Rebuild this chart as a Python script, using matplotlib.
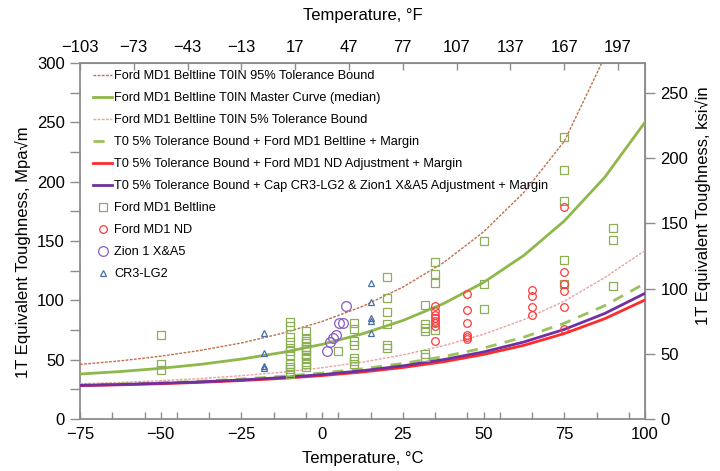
import matplotlib
matplotlib.use("Agg")
import matplotlib.pyplot as plt
import numpy as np

plt.rcParams['font.family'] = ['Liberation Sans', 'DejaVu Sans']

# ---- curve data ----
curve_T = [-75, -62.5, -50, -37.5, -25, -12.5, 0, 12.5, 25, 37.5, 50, 62.5, 75, 87.5, 100]
tol95 = [46.0, 49.0, 52.9, 57.9, 64.1, 72.1, 82.2, 94.9, 111.1, 131.6, 157.7, 191.0, 234.0, 305.0, 370.0]
median = [37.9, 40.0, 42.7, 46.1, 50.5, 56.0, 62.9, 71.8, 83.0, 97.1, 115.1, 137.9, 166.9, 203.6, 250.1]
tol05 = [29.7, 30.8, 32.3, 34.1, 36.5, 39.4, 43.2, 47.9, 54.0, 61.7, 71.4, 83.7, 99.3, 119.1, 142.0]
beltline_margin = [28.6, 29.5, 30.5, 31.9, 33.7, 35.9, 38.7, 42.3, 46.8, 52.5, 59.8, 69.0, 80.7, 95.5, 114.3]
nd_margin = [28.1, 28.8, 29.7, 30.9, 32.4, 34.2, 36.6, 39.6, 43.4, 48.2, 54.4, 62.1, 72.0, 84.5, 100.3]
cap_margin = [28.3, 29.1, 30.1, 31.3, 32.9, 34.9, 37.4, 40.7, 44.8, 50.0, 56.5, 64.9, 75.5, 88.9, 105.9]

# ---- data points ----
belt_T = ([-50] * 3 + [-10] * 12 + [-5] * 12 + [5] + [10] * 7 + [20] * 6 +
          [32] * 6 + [35] * 4 + [50] * 3 + [75] * 5 + [90] * 3)
belt_K = ([71, 46, 41] +
          [82, 78, 69, 65, 60, 57, 54, 46, 44, 42, 40, 38] +
          [74, 68, 66, 64, 61, 59, 57, 54, 51, 48, 46, 44] +
          [57] +
          [81, 76, 66, 62, 51, 49, 46] +
          [120, 102, 90, 80, 62, 60] +
          [96, 80, 77, 74, 55, 52] +
          [132, 122, 115, 75] +
          [150, 114, 93] +
          [238, 210, 184, 134, 114] +
          [161, 151, 112])

nd_T = [35] * 8 + [45] * 6 + [65] * 4 + [75] * 6
nd_K = ([95, 91, 88, 85, 83, 81, 78, 66] +
        [105, 92, 81, 71, 69, 67] +
        [109, 104, 94, 88] +
        [179, 124, 114, 108, 94, 76])

zion_T = [1.4, 2.4, 3.3, 4.3, 5.3, 6.6, 7.4]
zion_K = [57.5, 64.5, 68.0, 71.0, 81.0, 81.0, 95.5]

cr3_T = [-18] * 4 + [15] * 5
cr3_K = [72.7, 55.4, 44.7, 42.7, 114.3, 98.3, 85.3, 82.7, 72.7]

labels = [
    "Ford MD1 Beltline T0IN 95% Tolerance Bound",
    "Ford MD1 Beltline T0IN Master Curve (median)",
    "Ford MD1 Beltline T0IN 5% Tolerance Bound",
    "T0 5% Tolerance Bound + Ford MD1 Beltline + Margin",
    "T0 5% Tolerance Bound + Ford MD1 ND Adjustment + Margin",
    "T0 5% Tolerance Bound + Cap CR3-LG2 & Zion1 X&A5 Adjustment + Margin",
    "Ford MD1 Beltline",
    "Ford MD1 ND",
    "Zion 1 X&A5",
    "CR3-LG2",
]

fig = plt.figure(figsize=(7.2, 4.71), dpi=100)
ax = fig.add_axes([80 / 720, 1 - 419 / 471, 565 / 720, 356 / 471])

ax.plot(curve_T, tol95, color='#c0704a', lw=1.0, ls=(0, (2, 1)), label=labels[0], zorder=3)
ax.plot(curve_T, median, color='#8fb84a', lw=2.0, label=labels[1], zorder=3)
ax.plot(curve_T, tol05, color='#eba3a3', lw=1.0, ls=(0, (2, 1)), label=labels[2], zorder=3)
ax.plot(curve_T, beltline_margin, color='#9bc25c', lw=2.0, ls=(0, (4, 3)), label=labels[3], zorder=3)
ax.plot(curve_T, nd_margin, color='#ff2a2a', lw=2.0, label=labels[4], zorder=3)
ax.plot(curve_T, cap_margin, color='#7030a0', lw=2.0, label=labels[5], zorder=3)

ax.plot(belt_T, belt_K, ls='none', marker='s', ms=5.5, mfc='none', mec='#8cae55', mew=0.9,
        label=labels[6], zorder=4)
ax.plot(nd_T, nd_K, ls='none', marker='o', ms=5.5, mfc='none', mec='#ff3b3b', mew=0.9,
        label=labels[7], zorder=4)
ax.plot(zion_T, zion_K, ls='none', marker='o', ms=7, mfc='none', mec='#8a5cc0', mew=0.9,
        label=labels[8], zorder=4)
ax.plot(cr3_T, cr3_K, ls='none', marker='^', ms=5, mfc='none', mec='#4a6fa5', mew=0.9,
        label=labels[9], zorder=4)

ax.set_xlim(-75, 100)
ax.set_ylim(0, 300)
ax.set_xticks(np.arange(-75, 101, 25))
ax.set_xticks(np.arange(-65, 100, 10), minor=True)
ax.set_yticks(np.arange(0, 301, 50))
ax.set_yticks(np.arange(25, 300, 50), minor=True)

gray = '#8c8c8c'
for s in ax.spines.values():
    s.set_color(gray)
    s.set_linewidth(1.3)

ax.tick_params(axis='x', which='both', direction='in', length=5, color=gray, width=1,
               labelsize=12, pad=6)
ax.tick_params(axis='y', which='both', direction='out', length=7, color=gray, width=1,
               labelsize=12, pad=4)
ax.set_xlabel("Temperature, °C", fontsize=12, labelpad=6.5)
ax.set_ylabel("1T Equivalent Toughness, Mpa√m", fontsize=12)
ax.yaxis.set_label_coords(-0.086, 0.468)

secx = ax.secondary_xaxis('top', functions=(lambda c: c * 9 / 5 + 32, lambda f: (f - 32) * 5 / 9))
secx.set_xticks(np.arange(-103, 198, 30))
secx.tick_params(axis='x', direction='in', length=5, color=gray, width=1, labelsize=12, pad=6)
secx.spines['top'].set_color(gray)
secx.set_xlabel("Temperature, °F", fontsize=12, labelpad=14.5)

k = 0.9101
secy = ax.secondary_yaxis('right', functions=(lambda m: m * k, lambda s: s / k))
secy.set_yticks(np.arange(0, 251, 50))
secy.tick_params(axis='y', direction='out', length=7, color=gray, width=1, labelsize=12, pad=4)
secy.spines['right'].set_color(gray)
secy.set_ylabel("1T Equivalent Toughness, ksi√in", fontsize=12)
secy.yaxis.set_label_coords(1.0885, 0.60, transform=ax.transAxes)

leg = ax.legend(loc='upper left', bbox_to_anchor=(0.0233, 0.979), frameon=False,
                fontsize=9.2, handlelength=1.5, handletextpad=0.15, labelspacing=0.78,
                borderaxespad=0, borderpad=0)

fig.savefig("out.png", dpi=100)
